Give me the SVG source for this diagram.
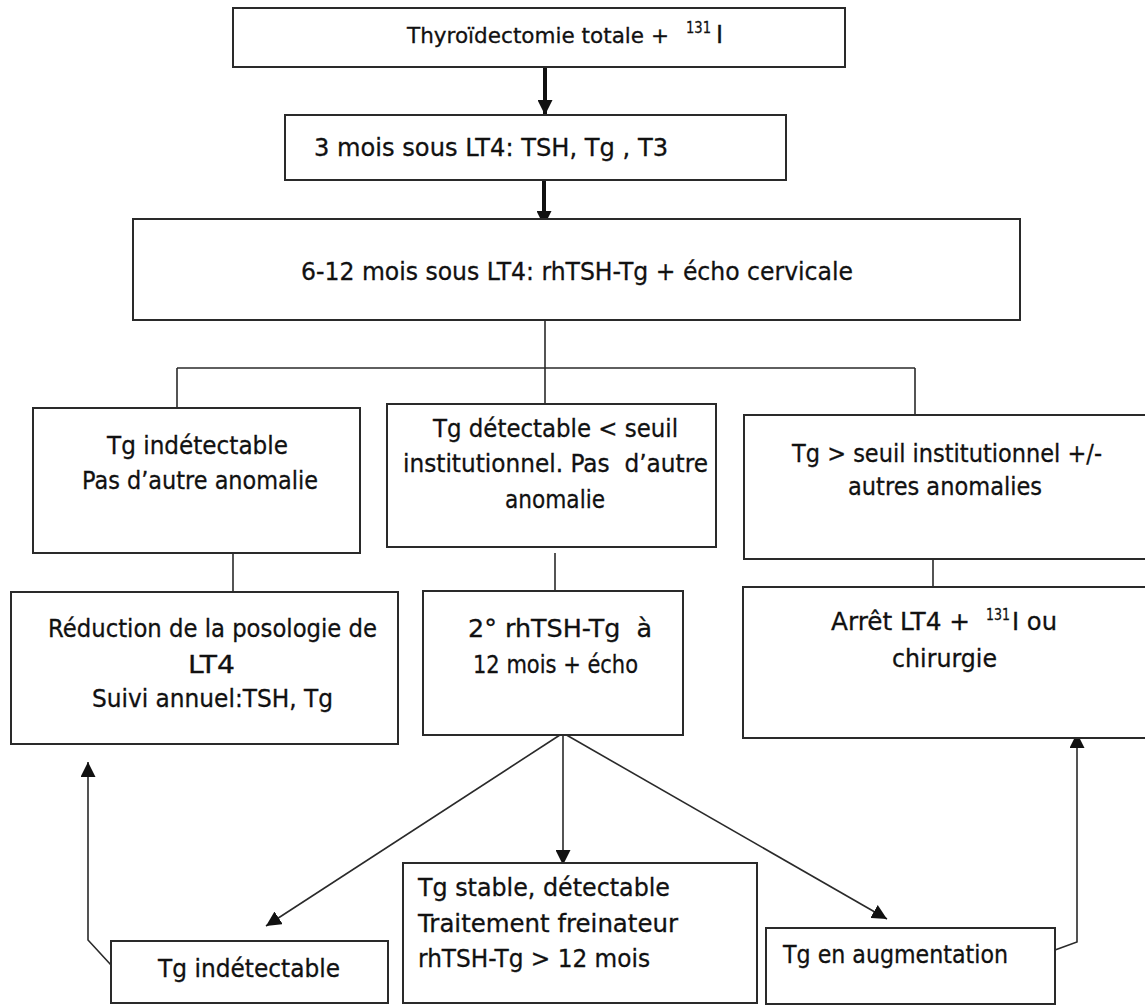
<svg xmlns="http://www.w3.org/2000/svg" width="1145" height="1007" viewBox="0 0 1145 1007">
<style>
.box{fill:#fff;stroke:#2a2a2a;stroke-width:2}
.t{font-family:"DejaVu Sans","Liberation Sans",sans-serif;font-size:24px;fill:#111;stroke:#111;stroke-width:0.3;white-space:pre}
.sup{font-size:15px}
.c{fill:none;stroke:#2a2a2a;stroke-width:1.6}
.thick{fill:none;stroke:#111;stroke-width:4}
</style>
<defs>
<marker id="ah" markerUnits="userSpaceOnUse" markerWidth="15" markerHeight="15" refX="15" refY="7.5" orient="auto" viewBox="0 0 15 15">
<path d="M0,0 L15,7.5 L0,15 z" fill="#111"/>
</marker>
</defs>
<rect width="1145" height="1007" fill="#fff"/>
<g id="connectors">
<line class="thick" x1="545" y1="67" x2="545" y2="115" marker-end="url(#ah)"/>
<line class="thick" x1="544" y1="180" x2="544" y2="226" marker-end="url(#ah)"/>
<line class="c" x1="545" y1="320" x2="545" y2="404"/>
<line class="c" x1="177" y1="368" x2="915" y2="368"/>
<line class="c" x1="177" y1="368" x2="177" y2="408"/>
<line class="c" x1="915" y1="368" x2="915" y2="415"/>
<line class="c" x1="233" y1="553" x2="233" y2="592"/>
<line class="c" x1="555" y1="553" x2="555" y2="591"/>
<line class="c" x1="933" y1="553" x2="933" y2="587"/>
<line class="c" x1="563" y1="733" x2="266" y2="926" marker-end="url(#ah)"/>
<line class="c" x1="563" y1="733" x2="563" y2="865" marker-end="url(#ah)"/>
<line class="c" x1="563" y1="733" x2="887" y2="919" marker-end="url(#ah)"/>
<polyline class="c" points="111,965 88,940 88,762" marker-end="url(#ah)"/>
<polyline class="c" points="1055,950 1077,942 1077,733" marker-end="url(#ah)"/>
</g>
<g id="n1"><rect class="box" x="233" y="8" width="612" height="59"/>
<text class="t" x="407" y="43" style="font-size:21.5px" textLength="262" lengthAdjust="spacingAndGlyphs">Thyroïdectomie totale +</text>
<text class="t sup" x="686" y="33" textLength="25" lengthAdjust="spacingAndGlyphs">131</text>
<text class="t" x="716" y="43">I</text></g>
<g id="n2"><rect class="box" x="285" y="115" width="501" height="65"/>
<text class="t" x="314" y="156" textLength="354" lengthAdjust="spacingAndGlyphs">3 mois sous LT4: TSH, Tg , T3</text></g>
<g id="n3"><rect class="box" x="133" y="219" width="887" height="101"/>
<text class="t" x="301" y="280" textLength="552" lengthAdjust="spacingAndGlyphs">6-12 mois sous LT4: rhTSH-Tg + écho cervicale</text></g>
<g id="n4"><rect class="box" x="33" y="408" width="327" height="145"/>
<text class="t" x="107" y="454" textLength="181" lengthAdjust="spacingAndGlyphs">Tg indétectable</text>
<text class="t" x="82" y="489" textLength="236" lengthAdjust="spacingAndGlyphs">Pas d’autre anomalie</text></g>
<g id="n5"><rect class="box" x="387" y="404" width="329" height="143"/>
<text class="t" x="433" y="437" textLength="245" lengthAdjust="spacingAndGlyphs">Tg détectable &lt; seuil</text>
<text class="t" x="403" y="472" textLength="305" lengthAdjust="spacingAndGlyphs">institutionnel. Pas  d’autre</text>
<text class="t" x="505" y="508" textLength="100" lengthAdjust="spacingAndGlyphs">anomalie</text></g>
<g id="n6"><rect class="box" x="744" y="415" width="420" height="144"/>
<text class="t" x="792" y="462" textLength="310" lengthAdjust="spacingAndGlyphs">Tg &gt; seuil institutionnel +/-</text>
<text class="t" x="848" y="495" textLength="194" lengthAdjust="spacingAndGlyphs">autres anomalies</text></g>
<g id="n7"><rect class="box" x="11" y="592" width="387" height="152"/>
<text class="t" x="48" y="637" textLength="329" lengthAdjust="spacingAndGlyphs">Réduction de la posologie de</text>
<text class="t" x="188" y="673" textLength="47" lengthAdjust="spacingAndGlyphs">LT4</text>
<text class="t" x="92" y="707" textLength="241" lengthAdjust="spacingAndGlyphs">Suivi annuel:TSH, Tg</text></g>
<g id="n8"><rect class="box" x="423" y="591" width="260" height="144"/>
<text class="t" x="468" y="637" textLength="184" lengthAdjust="spacingAndGlyphs">2° rhTSH-Tg  à</text>
<text class="t" x="473" y="673" textLength="165" lengthAdjust="spacingAndGlyphs">12 mois + écho</text></g>
<g id="n9"><rect class="box" x="743" y="587" width="421" height="151"/>
<text class="t" x="831" y="630" textLength="139" lengthAdjust="spacingAndGlyphs">Arrêt LT4 +</text>
<text class="t sup" x="986" y="620" textLength="24" lengthAdjust="spacingAndGlyphs">131</text>
<text class="t" x="1012" y="630" textLength="45" lengthAdjust="spacingAndGlyphs">I ou</text>
<text class="t" x="892" y="667" textLength="105" lengthAdjust="spacingAndGlyphs">chirurgie</text></g>
<g id="n10"><rect class="box" x="111" y="941" width="277" height="62"/>
<text class="t" x="158" y="977" textLength="182" lengthAdjust="spacingAndGlyphs">Tg indétectable</text></g>
<g id="n11"><rect class="box" x="403" y="863" width="354" height="140"/>
<text class="t" x="418" y="896" textLength="252" lengthAdjust="spacingAndGlyphs">Tg stable, détectable</text>
<text class="t" x="418" y="932" textLength="260" lengthAdjust="spacingAndGlyphs">Traitement freinateur</text>
<text class="t" x="418" y="967" textLength="232" lengthAdjust="spacingAndGlyphs">rhTSH-Tg &gt; 12 mois</text></g>
<g id="n12"><rect class="box" x="766" y="928" width="289" height="76"/>
<text class="t" x="783" y="963" textLength="225" lengthAdjust="spacingAndGlyphs">Tg en augmentation</text></g>
</svg>
